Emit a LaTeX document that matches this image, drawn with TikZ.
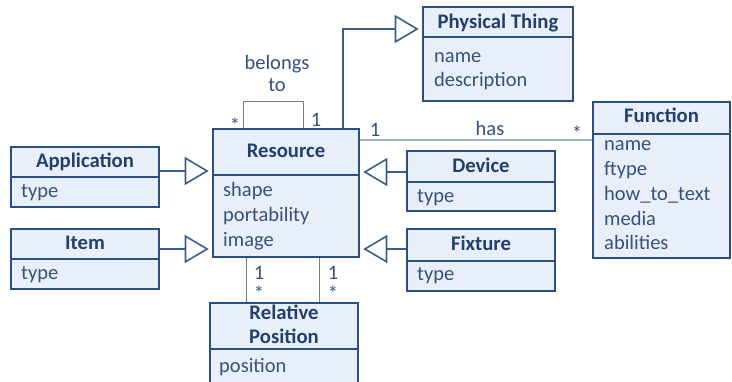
\documentclass[tikz,border=0pt]{standalone}
\usepackage{fontspec}
\setmainfont{Carlito}
\usetikzlibrary{arrows.meta}

\definecolor{boxline}{HTML}{2B4F81}
\definecolor{boxfill}{HTML}{E9EFF8}
\definecolor{titleink}{HTML}{22406C}
\definecolor{attrink}{HTML}{34527C}
\definecolor{genline}{HTML}{3A5D8F}
\definecolor{assocline}{HTML}{6F8096}
\definecolor{hasline}{HTML}{A7B3C2}

\tikzset{
  classbox/.style={draw=boxline, fill=boxfill, line width=2.6pt, inner sep=0pt, rectangle},
  classline/.style={draw=boxline, line width=2.6pt},
  titletext/.style={font=\fontsize{20.7}{24}\selectfont\bfseries, text=titleink, inner sep=0pt, anchor=base, align=center},
  attrtext/.style={font=\fontsize{20.5}{24}\selectfont, text=attrink, inner sep=0pt, anchor=base west},
  labeltext/.style={font=\fontsize{20.5}{24}\selectfont, text=attrink, inner sep=0pt, anchor=base},
  gen/.style={draw=genline, line width=1.6pt,
    -{Triangle[open, length=24pt, width=28pt, line width=1.6pt]}, shorten >=3pt},
  assoc/.style={draw=assocline, line width=1pt},
  hasassoc/.style={draw=hasline, line width=1.2pt},
}

% \classframe{name}{left}{top}{right}{divider}{bottom}
\newcommand{\classframe}[6]{%
  \node[classbox, minimum width={#4-#2}, minimum height={#6-#3}] (#1)
    at ({(#2+#4)/2},{(#3+#6)/2}) {};
  \draw[classline] (#2,#5) -- (#4,#5);
}

\begin{document}
\begin{tikzpicture}[x=1pt, y=-1pt]
\useasboundingbox (0,0) rectangle (732,382);

% ---- classes ----
\classframe{pt}{423}{7}{573}{37}{101}
\node[titletext] (pt-t) at (498,29) {Physical Thing};
\node[attrtext] (pt-a1) at (434,63) {name};
\node[attrtext] (pt-a2) at (434,87) {description};

\classframe{res}{213}{129}{359}{175}{257}
\node[titletext] (res-t) at (286,158) {Resource};
\node[attrtext] (res-a1) at (223,197) {shape};
\node[attrtext] (res-a2) at (223,222) {portability};
\node[attrtext] (res-a3) at (223,247) {image};

\classframe{app}{11}{147}{159}{177}{207}
\node[titletext] (app-t) at (85,168) {Application};
\node[attrtext] (app-a1) at (21,198) {type};

\classframe{item}{11}{229}{159}{259}{289}
\node[titletext] (item-t) at (85,250) {Item};
\node[attrtext] (item-a1) at (21,280) {type};

\classframe{dev}{407}{151}{555}{182}{211}
\node[titletext] (dev-t) at (481,173) {Device};
\node[attrtext] (dev-a1) at (417,203) {type};

\classframe{fix}{407}{229}{555}{261}{291}
\node[titletext] (fix-t) at (481,251) {Fixture};
\node[attrtext] (fix-a1) at (417,281) {type};

\classframe{fn}{593}{102}{730}{134}{258}
\node[titletext] (fn-t) at (661.5,123) {Function};
\node[attrtext] (fn-a1) at (604,151) {name};
\node[attrtext] (fn-a2) at (604,176) {ftype};
\node[attrtext] (fn-a3) at (604,201) {how\_to\_text};
\node[attrtext] (fn-a4) at (604,226) {media};
\node[attrtext] (fn-a5) at (604,250) {abilities};

\classframe{rp}{210}{303}{358}{349}{386}
\node[titletext] (rp-t1) at (284,320) {Relative};
\node[titletext] (rp-t2) at (284,344) {Position};
\node[attrtext] (rp-a1) at (219,373) {position};

% ---- generalizations ----
\draw[gen] (app.east |- 0,171) -- (res.west |- 0,171);
\draw[gen] (item.east |- 0,249) -- (res.west |- 0,249);
\draw[gen] (dev.west |- 0,172) -- (res.east |- 0,172);
\draw[gen] (fix.west |- 0,249) -- (res.east |- 0,249);
\draw[gen] (res.north -| 343,0) |- (pt.west |- 0,29);

% ---- associations ----
\draw[assoc] (res.north -| 243,0) -- (243,102) -- (303,102) -- (res.north -| 303,0);
\node[labeltext] (bel1) at (277,70) {belongs};
\node[labeltext] (bel2) at (277,92) {to};
\node[labeltext] (self-m) at (235,133) {*};
\node[labeltext] (self-1) at (316,127) {1};

\draw[hasassoc] (res.east |- 0,140) -- (fn.west |- 0,140);
\node[labeltext] (has-1) at (375,137) {1};
\node[labeltext] (has-l) at (490,136) {has};
\node[labeltext] (has-m) at (577,141) {*};

\draw[assoc] (res.south -| 246,0) -- (rp.north -| 246,0);
\draw[assoc] (res.south -| 319,0) -- (rp.north -| 319,0);
\node[labeltext] (rp1-1) at (259,280) {1};
\node[labeltext] (rp1-m) at (259,301) {*};
\node[labeltext] (rp2-1) at (333,280) {1};
\node[labeltext] (rp2-m) at (333,301) {*};
\end{tikzpicture}
\end{document}
